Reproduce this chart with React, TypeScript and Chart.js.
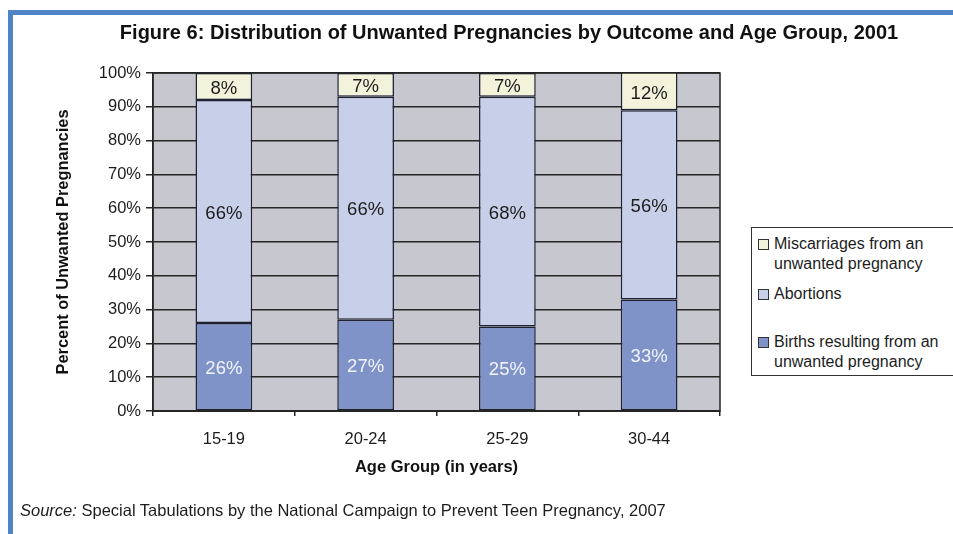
import React, { useEffect, useRef } from "react";
import { Chart, registerables } from "chart.js";

Chart.register(...registerables);

// Age groups and the share of unwanted pregnancies by outcome (percent)
const ageGroups = ["15-19", "20-24", "25-29", "30-44"];
const births = [26, 27, 25, 33];
const abortions = [66, 66, 68, 56];
const miscarriages = [8, 7, 7, 12];
const yTickValues = [0, 10, 20, 30, 40, 50, 60, 70, 80, 90, 100];

const FONT = "'Liberation Sans', Arial, Helvetica, sans-serif";
const INK = "#262626";
const PLOT_BG = "#c6c7cf";

const legendItems = [
  { color: "#f3f3dc", lines: ["Miscarriages from an", "unwanted pregnancy"] },
  { color: "#c8d0e9", lines: ["Abortions"] },
  { color: "#7f93c8", lines: ["Births resulting from an", "unwanted pregnancy"] },
];

// Grey plot background painted under the grid
const plotBackground = {
  id: "plotBackground",
  beforeDraw(chart: any) {
    const { ctx, chartArea } = chart;
    ctx.save();
    ctx.fillStyle = PLOT_BG;
    ctx.fillRect(chartArea.left, chartArea.top, chartArea.right - chartArea.left, chartArea.bottom - chartArea.top);
    ctx.restore();
  },
};

// Frame around the plot and percentage labels inside each segment
const segmentLabels = {
  id: "segmentLabels",
  afterDatasetsDraw(chart: any) {
    const { ctx, chartArea } = chart;
    ctx.save();
    ctx.strokeStyle = INK;
    ctx.lineWidth = 1.5;
    ctx.strokeRect(chartArea.left, chartArea.top, chartArea.right - chartArea.left, chartArea.bottom - chartArea.top);
    ctx.font = `18.5px ${FONT}`;
    ctx.textAlign = "center";
    ctx.textBaseline = "middle";
    chart.data.datasets.forEach((ds: any, di: number) => {
      const meta = chart.getDatasetMeta(di);
      ctx.fillStyle = ds.labelColor;
      meta.data.forEach((bar: any, i: number) => {
        const { x, y, base } = bar.getProps(["x", "y", "base"], true);
        const top = Math.max(Math.min(y, base), chartArea.top);
        const bottom = Math.min(Math.max(y, base), chartArea.bottom);
        ctx.fillText(`${ds.data[i]}%`, x, (top + bottom) / 2 + 2);
      });
    });
    ctx.restore();
  },
};

export default function App() {
  const canvasRef = useRef<HTMLCanvasElement | null>(null);

  useEffect(() => {
    if (!canvasRef.current) return;
    const barStyle = {
      borderColor: "#1e2233",
      borderWidth: 1.5,
      borderSkipped: false as const,
      categoryPercentage: 1,
      barPercentage: 0.4,
    };
    const chart = new Chart(canvasRef.current, {
      type: "bar",
      data: {
        labels: ageGroups,
        datasets: [
          { label: "Births resulting from an unwanted pregnancy", data: births, backgroundColor: "#7f93c8", labelColor: "#f2f4fb", ...barStyle } as any,
          { label: "Abortions", data: abortions, backgroundColor: "#c8d0e9", labelColor: "#1c1c1c", ...barStyle } as any,
          { label: "Miscarriages from an unwanted pregnancy", data: miscarriages, backgroundColor: "#f3f3dc", labelColor: "#1c1c1c", ...barStyle } as any,
        ],
      },
      options: {
        responsive: false,
        animation: false,
        devicePixelRatio: 1,
        layout: { padding: { top: 73, right: 233, bottom: 53, left: 50 } },
        plugins: {
          legend: { display: false },
          title: { display: false },
          tooltip: { enabled: false },
        },
        scales: {
          x: {
            stacked: true,
            grid: {
              display: true,
              drawOnChartArea: false,
              drawTicks: true,
              tickLength: 5,
              color: INK,
              lineWidth: 1.5,
              offset: true,
            },
            border: { display: true, color: INK, width: 2 },
            ticks: { color: "#1c1c1c", padding: 14, font: { family: FONT, size: 16.5 } },
            title: {
              display: true,
              text: "Age Group (in years)",
              color: "#111",
              font: { family: FONT, size: 16.5, weight: "bold" },
              padding: { top: 0, bottom: 4 },
            },
            afterFit: (scale: any) => {
              scale.height = 70;
            },
          },
          y: {
            stacked: true,
            min: 0,
            max: 100,
            afterBuildTicks: (scale: any) => {
              scale.ticks = yTickValues.map((v) => ({ value: v }));
            },
            grid: { color: INK, lineWidth: 1.5, tickLength: 7, drawTicks: true },
            border: { display: true, color: INK, width: 1.5 },
            ticks: {
              color: "#1c1c1c",
              padding: 5,
              font: { family: FONT, size: 16.5 },
              callback: (v: any) => `${v}%`,
            },
            title: {
              display: true,
              text: "Percent of Unwanted Pregnancies",
              color: "#111",
              font: { family: FONT, size: 16.4, weight: "bold" },
              padding: { top: 4, bottom: 0 },
            },
            afterFit: (scale: any) => {
              scale.width = 103;
            },
          },
        },
      },
      plugins: [plotBackground, segmentLabels],
    });
    return () => chart.destroy();
  }, []);

  return (
    <div style={{ position: "fixed", left: 0, top: 0, width: 953, height: 534, background: "#fff", overflow: "hidden", fontFamily: FONT }}>
      <div
        style={{
          position: "absolute",
          left: 8,
          top: 10,
          width: 945,
          height: 524,
          borderLeft: "5px solid #4f85c6",
          borderTop: "5px solid #4f85c6",
          boxSizing: "border-box",
        }}
      />
      <canvas ref={canvasRef} width={953} height={534} style={{ position: "absolute", left: 0, top: 0, width: 953, height: 534 }} />
      <div
        style={{
          position: "absolute",
          left: 509,
          top: 20,
          transform: "translateX(-50%)",
          whiteSpace: "nowrap",
          fontSize: 20,
          lineHeight: "24px",
          fontWeight: "bold",
          color: "#111",
        }}
      >
        Figure 6: Distribution of Unwanted Pregnancies by Outcome and Age Group, 2001
      </div>
      <div
        style={{
          position: "absolute",
          left: 751,
          top: 227,
          width: 220,
          height: 149,
          border: "1.5px solid #333",
          boxSizing: "border-box",
          background: "#fff",
          color: "#1c1c1c",
          fontSize: 16,
          lineHeight: "20px",
        }}
      >
        {legendItems.map((item, k) => (
          <div key={k} style={{ position: "absolute", left: 6, top: [6, 56, 104][k], display: "flex" }}>
            <div
              style={{
                width: 9,
                height: 9,
                marginTop: 5,
                marginRight: 5,
                background: item.color,
                border: "1.5px solid #333",
                flexShrink: 0,
              }}
            />
            <div>
              {item.lines.map((l, j) => (
                <div key={j} style={{ whiteSpace: "nowrap" }}>{l}</div>
              ))}
            </div>
          </div>
        ))}
      </div>
      <div
        style={{
          position: "absolute",
          left: 20,
          top: 500,
          fontSize: 16.5,
          lineHeight: "20px",
          color: "#1c1c1c",
          whiteSpace: "nowrap",
        }}
      >
        <i>Source:</i> Special Tabulations by the National Campaign to Prevent Teen Pregnancy, 2007
      </div>
    </div>
  );
}
